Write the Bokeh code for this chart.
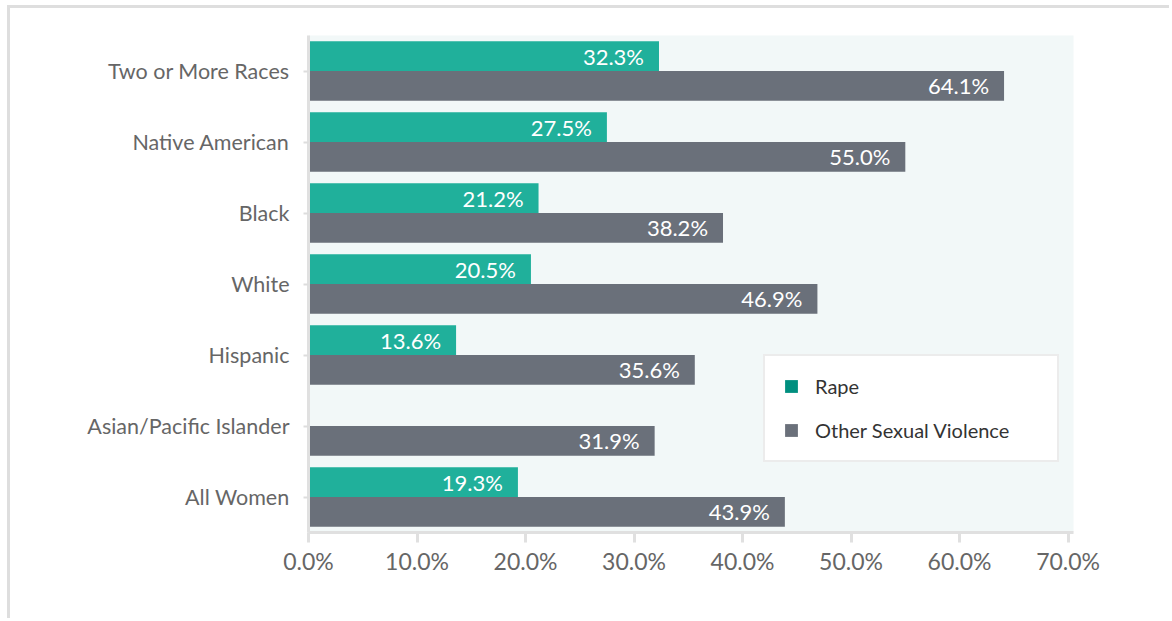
from bokeh.plotting import figure
from bokeh.models import (ColumnDataSource, FactorRange, Range1d, Legend, LegendItem,
                          PrintfTickFormatter)
from bokeh.transform import dodge
from bokeh.core.properties import value
from bokeh.embed import file_html
from bokeh.resources import INLINE

# ---- data (bottom to top order for the categorical axis) ----
categories = ["All Women", "Asian/Pacific Islander", "Hispanic", "White",
              "Black", "Native American", "Two or More Races"]
rape = [19.3, None, 13.6, 20.5, 21.2, 27.5, 32.3]
other = [43.9, 31.9, 35.6, 46.9, 38.2, 55.0, 64.1]
x_ticks = [0, 10, 20, 30, 40, 50, 60, 70]

TEAL = "#20b09b"
TEAL_LEG = "#008f7f"
GRAY = "#6a707a"
FONT = "Lato"

rape_cats = [c for c, v in zip(categories, rape) if v is not None]
rape_vals = [v for v in rape if v is not None]
src_rape = ColumnDataSource(dict(cat=rape_cats, val=rape_vals,
                                 lab=[f"{v:.1f}%" for v in rape_vals]))
src_other = ColumnDataSource(dict(cat=categories, val=other,
                                  lab=[f"{v:.1f}%" for v in other]))

p = figure(width=1162, height=613, output_backend="svg", toolbar_location=None,
           y_range=FactorRange(*categories, range_padding=0),
           x_range=Range1d(0, 70.5),
           min_border_left=298, min_border_right=99, min_border_top=27,
           min_border_bottom=89,
           styles={"margin-left": "7px", "margin-top": "5px",
                   "border-left": "3px solid #dedede", "border-top": "3px solid #dedede"})
p.y_range.factor_padding = 0

p.background_fill_color = "#f2f8f8"
p.border_fill_color = "white"
p.outline_line_color = None
p.grid.visible = False

H = 0.42
p.hbar(y=dodge("cat", 0.21, range=p.y_range), left=0, right="val", height=H,
       source=src_rape, fill_color=TEAL, line_color=None)
p.hbar(y=dodge("cat", -0.21, range=p.y_range), left=0, right="val", height=H,
       source=src_other, fill_color=GRAY, line_color=None)

p.text(x="val", y=dodge("cat", 0.21, range=p.y_range), text="lab", source=src_rape,
       x_offset=-15, text_align="right", text_baseline="middle",
       text_color="white", text_font=value(FONT), text_font_size="22px")
p.text(x="val", y=dodge("cat", -0.21, range=p.y_range), text="lab", source=src_other,
       x_offset=-15, text_align="right", text_baseline="middle",
       text_color="white", text_font=value(FONT), text_font_size="22px")

# axes
p.xaxis.ticker = x_ticks
p.xaxis.formatter = PrintfTickFormatter(format="%.1f%%")
p.xaxis.axis_line_color = "#e0e0e0"
p.xaxis.axis_line_width = 3
p.xaxis.major_tick_line_color = "#e0e0e0"
p.xaxis.major_tick_line_width = 3
p.xaxis.major_tick_out = 10
p.xaxis.major_tick_in = 0
p.xaxis.minor_tick_line_color = None
p.xaxis.major_label_text_font = FONT
p.xaxis.major_label_text_font_size = "23px"
p.xaxis.major_label_text_color = "#666666"
p.xaxis.major_label_standoff = 4

p.yaxis.axis_line_color = "#e0e0e0"
p.yaxis.axis_line_width = 3
p.yaxis.major_tick_line_color = "#dddddd"
p.yaxis.major_tick_line_width = 2
p.yaxis.major_tick_out = 5
p.yaxis.major_tick_in = 0
p.yaxis.major_label_text_font = FONT
p.yaxis.major_label_text_font_size = "21.5px"
p.yaxis.major_label_text_color = "#666666"
p.yaxis.major_label_standoff = 14

# legend with its own swatch colours (zero-length bars used only as legend swatches)
src_leg = ColumnDataSource(dict(cat=[categories[0]], zero=[0]))
d1 = p.hbar(y="cat", left="zero", right="zero", height=0.0, source=src_leg,
            fill_color=TEAL_LEG, line_color=None)
d2 = p.hbar(y="cat", left="zero", right="zero", height=0.0, source=src_leg,
            fill_color=GRAY, line_color=None)
legend = Legend(items=[LegendItem(label="Rape", renderers=[d1]),
                       LegendItem(label="Other Sexual Violence", renderers=[d2])],
                location=(455, 70), orientation="vertical")
legend.background_fill_color = "white"
legend.background_fill_alpha = 1.0
legend.border_line_color = "#d9d9d9"
legend.border_line_width = 2
legend.label_text_font = FONT
legend.label_text_font_size = "20px"
legend.label_text_color = "#333333"
legend.glyph_width = 16
legend.glyph_height = 16
legend.label_standoff = 16
legend.label_height = 20
legend.spacing = 20
legend.padding = 18
legend.margin = 0
legend.label_width = 224
p.add_layout(legend, "center")

open("out.html", "w").write(file_html(p, INLINE))
